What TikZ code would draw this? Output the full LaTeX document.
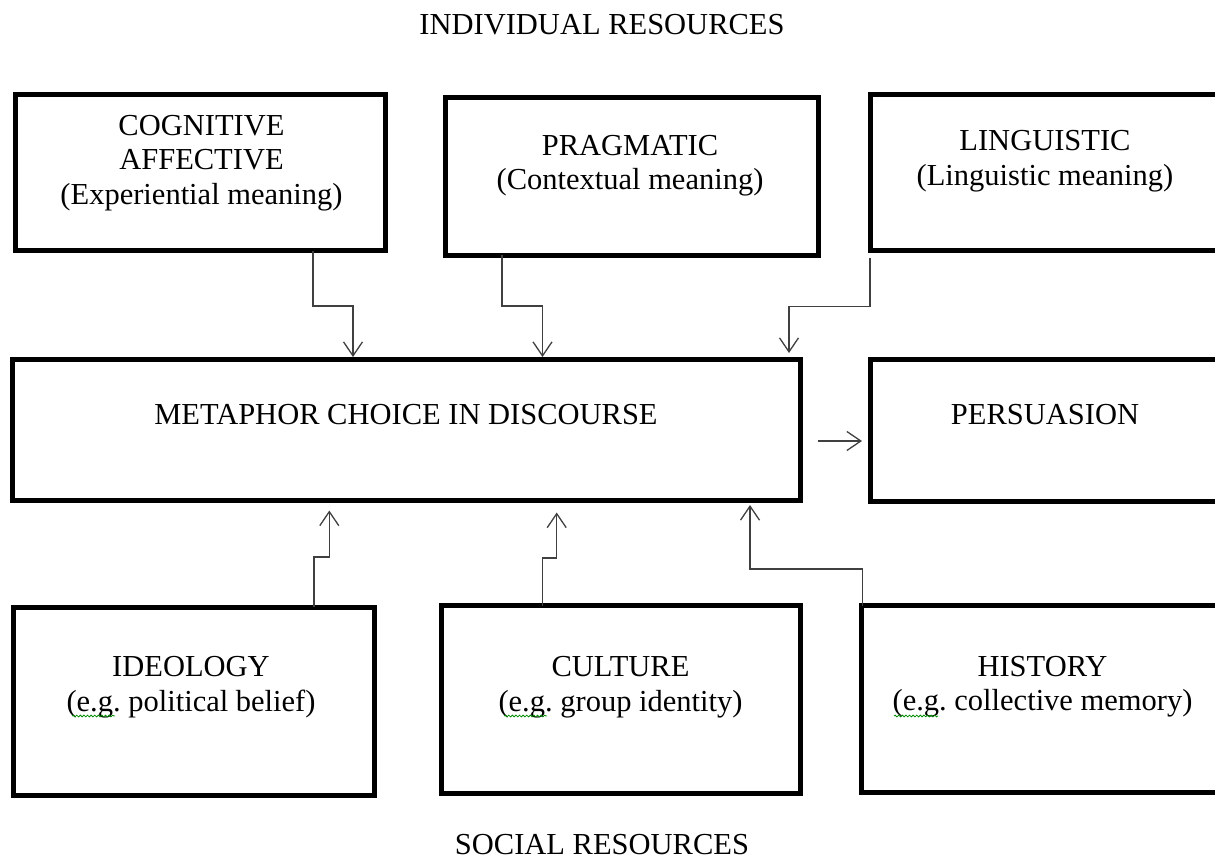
\documentclass[tikz,border=0pt]{standalone}
\usepackage{fontspec}
\setmainfont{Liberation Serif}
\usetikzlibrary{arrows.meta,calc,decorations.pathmorphing}
\begin{document}
\begin{tikzpicture}[x=1pt,y=-1pt,
  box/.style={draw=black, line width=5pt, rectangle, outer sep=0pt, inner sep=0pt, anchor=north west},
  txt/.style={anchor=base, inner sep=0pt, font=\fontsize{30.5}{34.5}\selectfont},
  conn/.style={draw=black!75, line width=1.3pt,
    -{Straight Barb[length=14pt,width=19pt,line width=1.3pt]}},
  spell/.style={draw=green!55!black, line width=0.8pt, decorate,
    decoration={snake,amplitude=0.9pt,segment length=3.6pt}}]

\useasboundingbox (0,0) rectangle (1215,862);
\clip (0,0) rectangle (1215,862);

% headings
\node[txt] (hind) at (602,34.5) {INDIVIDUAL RESOURCES};
\node[txt] (hsoc) at (602,854) {SOCIAL RESOURCES};

% individual resources
\node[box, minimum width=370pt, minimum height=156pt] (cog) at (15.5,94.5) {};
\node[box, minimum width=373.5pt, minimum height=157.5pt] (prag) at (445,97.5) {};
\node[box, minimum width=390pt, minimum height=156.5pt] (ling) at (870.5,94) {};

% discourse level
\node[box, minimum width=788pt, minimum height=141pt] (meta) at (12.5,359.5) {};
\node[box, minimum width=390pt, minimum height=141.5pt] (pers) at (870.5,359.5) {};

% social resources
\node[box, minimum width=361pt, minimum height=188pt] (ideo) at (13,607) {};
\node[box, minimum width=359pt, minimum height=187.5pt] (cult) at (441.5,605.5) {};
\node[box, minimum width=399pt, minimum height=187pt] (hist) at (861,605.5) {};

% box texts
\node[txt] (tcog) at (201.5,135) {\begin{tabular}[t]{@{}c@{}}COGNITIVE\\AFFECTIVE\\(Experiential meaning)\end{tabular}};
\node[txt] (tprag) at (630,155) {\begin{tabular}[t]{@{}c@{}}PRAGMATIC\\(Contextual meaning)\end{tabular}};
\node[txt] (tling) at (1045,150.5) {\begin{tabular}[t]{@{}c@{}}LINGUISTIC\\(Linguistic meaning)\end{tabular}};
\node[txt] (tmeta) at (406,424.5) {METAPHOR CHOICE IN DISCOURSE};
\node[txt] (tpers) at (1045,424.5) {PERSUASION};
\node[txt] (tideo) at (191,676.5) {\begin{tabular}[t]{@{}c@{}}IDEOLOGY\\(e.g.\ political belief)\end{tabular}};
\node[txt] (tcult) at (620.5,676.5) {\begin{tabular}[t]{@{}c@{}}CULTURE\\(e.g.\ group identity)\end{tabular}};
\node[txt] (thist) at (1042.5,676) {\begin{tabular}[t]{@{}c@{}}HISTORY\\(e.g.\ collective memory)\end{tabular}};

% spelling marks under "e.g."
\draw[spell] (72,716) -- (115,716);
\draw[spell] (504,716) -- (547,716);
\draw[spell] (894,716) -- (938,716);

% connectors from individual resources
\draw[conn, shorten >=2.5pt] ([xshift=297.5pt]cog.south west) -- ++(0,55.5)
  -| ([xshift=340.5pt]meta.north west);
\draw[conn, shorten >=2.5pt] ([xshift=57pt]prag.south west) -- ++(0,51)
  -| ([xshift=530pt]meta.north west);
\draw[conn, shorten >=6.5pt] ([xshift=-0.5pt,yshift=-7.5pt]ling.south west) -- ++(0,48.7)
  -| ([xshift=776.5pt]meta.north west);

% connectors from social resources
\draw[conn, shorten >=10pt] ([xshift=301pt]ideo.north west) -- ++(0,-50)
  -| ([xshift=316.8pt]meta.south west);
\draw[conn, shorten >=12pt] ([xshift=101.2pt]cult.north west) -- ++(0,-47.5)
  -| ([xshift=544.2pt]meta.south west);
\draw[conn, shorten >=4.5pt] ([xshift=1.7pt]hist.north west) -- ++(0,-36.5)
  -| ([xshift=737.5pt]meta.south west);

% outcome
\draw[conn, shorten >=8.5pt] ([xshift=17.5pt,yshift=-11pt]meta.east)
  -- ([yshift=-10.75pt]pers.west);
\end{tikzpicture}
\end{document}
